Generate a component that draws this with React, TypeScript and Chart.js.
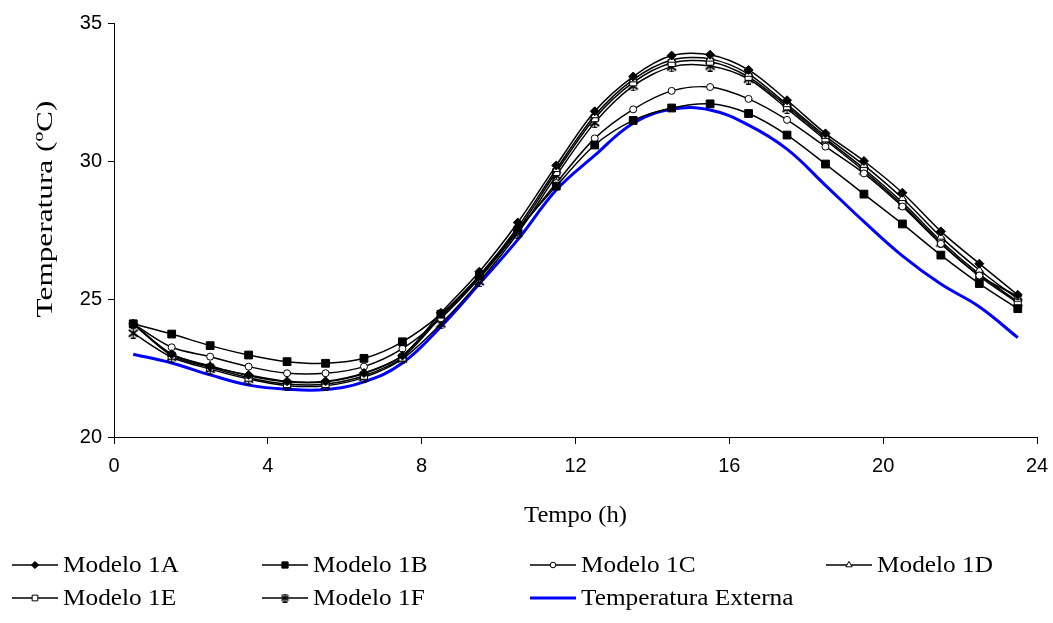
import React, { useEffect, useRef } from 'react';
import { Chart, registerables } from 'chart.js';
import { drawPoint } from 'chart.js/helpers';

Chart.register(...registerables);

const hours = [0.5, 1.5, 2.5, 3.5, 4.5, 5.5, 6.5, 7.5, 8.5, 9.5, 10.5, 11.5, 12.5, 13.5, 14.5, 15.5, 16.5, 17.5, 18.5, 19.5, 20.5, 21.5, 22.5, 23.5];

const modelo1A = [24.1, 23.0, 22.55, 22.25, 22.02, 22.02, 22.32, 22.95, 24.5, 25.99, 27.77, 29.84, 31.8, 33.06, 33.82, 33.85, 33.3, 32.2, 31.0, 30.0, 28.85, 27.45, 26.28, 25.15];
const modelo1B = [24.1, 23.73, 23.31, 22.97, 22.73, 22.67, 22.85, 23.45, 24.45, 25.82, 27.5, 29.09, 30.58, 31.47, 31.92, 32.07, 31.72, 30.94, 29.89, 28.8, 27.72, 26.59, 25.56, 24.65];
const modelo1C = [24.1, 23.25, 22.91, 22.55, 22.31, 22.31, 22.55, 23.2, 24.3, 25.75, 27.45, 29.2, 30.82, 31.87, 32.54, 32.68, 32.25, 31.49, 30.52, 29.55, 28.35, 27.0, 25.85, 25.1];
const modelo1D = [24.1, 23.0, 22.58, 22.22, 22.0, 22.0, 22.3, 22.95, 24.4, 25.85, 27.6, 29.7, 31.65, 32.95, 33.66, 33.7, 33.15, 32.05, 30.9, 29.85, 28.65, 27.25, 26.05, 25.0];
const modelo1E = [24.1, 22.95, 22.52, 22.15, 21.92, 21.92, 22.22, 22.88, 24.35, 25.78, 27.5, 29.6, 31.55, 32.85, 33.55, 33.6, 33.05, 31.98, 30.82, 29.72, 28.5, 27.1, 25.9, 24.9];
const modelo1F = [23.76, 22.89, 22.46, 22.1, 21.86, 21.86, 22.16, 22.83, 24.1, 25.63, 27.38, 29.47, 31.39, 32.72, 33.41, 33.44, 32.97, 31.9, 30.76, 29.64, 28.41, 27.03, 25.83, 24.86];
const tempExterna = [23.0, 22.68, 22.25, 21.88, 21.73, 21.72, 22.0, 22.68, 24.0, 25.55, 27.15, 28.95, 30.2, 31.37, 31.87, 31.85, 31.3, 30.43, 29.12, 27.8, 26.56, 25.54, 24.72, 23.6];

const seriesLabels = ['Modelo 1A', 'Modelo 1B', 'Modelo 1C', 'Modelo 1D', 'Modelo 1E', 'Modelo 1F', 'Temperatura Externa'];
const seriesValues = [modelo1A, modelo1B, modelo1C, modelo1D, modelo1E, modelo1F, tempExterna];

const xTitle = 'Tempo (h)';
const yTitle = 'Temperatura (ºC)';

const SERIF = '23px "Liberation Serif"';

function makeStar(size: number, lw: number): HTMLCanvasElement {
  const c = document.createElement('canvas');
  c.width = size;
  c.height = size;
  const g = c.getContext('2d')!;
  const m = size / 2;
  g.strokeStyle = '#000';
  g.lineCap = 'butt';
  g.lineWidth = lw;
  g.beginPath();
  g.moveTo(1, 2);
  g.lineTo(size - 1, size - 2);
  g.moveTo(size - 1, 2);
  g.lineTo(1, size - 2);
  g.stroke();
  g.lineWidth = 1.2;
  g.beginPath();
  g.moveTo(m, 0);
  g.lineTo(m, size);
  g.moveTo(m - 2.5, 0.6);
  g.lineTo(m + 2.5, 0.6);
  g.moveTo(m - 2.5, size - 0.6);
  g.lineTo(m + 2.5, size - 0.6);
  g.stroke();
  return c;
}

function stretchedText(ctx: any, text: string, x: number, y: number, sx: number, rot: number, align: string) {
  ctx.save();
  ctx.translate(x, y);
  ctx.rotate(rot);
  ctx.scale(sx, 1);
  ctx.font = SERIF;
  ctx.fillStyle = '#000';
  ctx.textAlign = align;
  ctx.textBaseline = 'middle';
  ctx.fillText(text, 0, 0);
  ctx.restore();
}

const textPlugin = {
  id: 'customText',
  afterDraw(chart: any) {
    const ctx = chart.ctx;
    const area = chart.chartArea;
    stretchedText(ctx, xTitle, (area.left + area.right) / 2, 516, 1.07, 0, 'center');
    stretchedText(ctx, yTitle, 46, 209, 1.36, -Math.PI / 2, 'center');
    const cols = [12, 262, 530, 826];
    const rows = [565, 598];
    chart.data.datasets.forEach((ds: any, i: number) => {
      const x0 = cols[i % 4];
      const y0 = rows[Math.floor(i / 4)];
      ctx.save();
      ctx.strokeStyle = ds.borderColor;
      ctx.lineWidth = ds.borderWidth;
      ctx.beginPath();
      ctx.moveTo(x0, y0);
      ctx.lineTo(x0 + 46, y0);
      ctx.stroke();
      if (ds.pointRadius > 0) {
        ctx.fillStyle = ds.pointBackgroundColor;
        ctx.strokeStyle = ds.pointBorderColor;
        ctx.lineWidth = 1;
        drawPoint(ctx, { pointStyle: ds.legendPointStyle || ds.pointStyle, radius: ds.pointRadius * 0.8, borderWidth: 1, rotation: 0 } as any, x0 + 23, y0);
      }
      ctx.restore();
      stretchedText(ctx, ds.label, x0 + 51, y0 + 1, 1.1, 0, 'left');
    });
  },
};

export default function App() {
  const ref = useRef<HTMLCanvasElement | null>(null);

  useEffect(() => {
    if (!ref.current) return;
    const star = makeStar(11, 2);
    const starSmall = makeStar(9, 1.6);
    const styles = [
      { pointStyle: 'rectRot', pointRadius: 4.5, bg: '#000' },
      { pointStyle: 'rect', pointRadius: 5.5, bg: '#000' },
      { pointStyle: 'circle', pointRadius: 3.5, bg: '#fff' },
      { pointStyle: 'triangle', pointRadius: 4.5, bg: '#fff' },
      { pointStyle: 'rect', pointRadius: 5, bg: '#fff' },
      { pointStyle: star, pointRadius: 5, bg: '#fff', legend: starSmall },
    ];
    const datasets = seriesValues.map((vals, i) => {
      const data = hours.map((h, k) => ({ x: h, y: vals[k] }));
      if (i === 6) {
        return {
          label: seriesLabels[i],
          data,
          borderColor: '#0000ff',
          borderWidth: 3,
          pointRadius: 0,
          tension: 0.4,
          fill: false,
        };
      }
      const s = styles[i];
      return {
        label: seriesLabels[i],
        data,
        borderColor: '#000',
        borderWidth: 1.5,
        pointStyle: s.pointStyle,
        legendPointStyle: (s as any).legend,
        pointRadius: s.pointRadius,
        pointBackgroundColor: s.bg,
        pointBorderColor: '#000',
        pointBorderWidth: 1,
        tension: 0.3,
        fill: false,
      };
    });

    const chart = new Chart(ref.current, {
      type: 'line',
      data: { datasets: datasets as any },
      options: {
        animation: false,
        responsive: false,
        devicePixelRatio: 1,
        layout: { padding: { left: 30, right: 0, top: 23, bottom: 90 } },
        plugins: { legend: { display: false }, tooltip: { enabled: false } },
        scales: {
          x: {
            type: 'linear',
            min: 0,
            max: 24,
            afterFit: (scale: any) => { scale.height = 96; scale.paddingRight = 16; scale.paddingLeft = 0; },
            ticks: { stepSize: 4, color: '#000', padding: 10, font: { family: '"Liberation Sans"', size: 20 } },
            grid: { drawOnChartArea: false, drawTicks: true, tickLength: 7, color: '#000' },
            border: { display: true, color: '#000', width: 1 },
          },
          y: {
            type: 'linear',
            min: 20,
            max: 35,
            afterFit: (scale: any) => { scale.width = 84; scale.paddingTop = 0; scale.paddingBottom = 0; },
            ticks: { stepSize: 5, color: '#000', padding: 6, font: { family: '"Liberation Sans"', size: 20 } },
            grid: { drawOnChartArea: false, drawTicks: true, tickLength: 6, color: '#000' },
            border: { display: true, color: '#000', width: 1 },
          },
        },
      },
      plugins: [textPlugin],
    });
    return () => chart.destroy();
  }, []);

  return (
    <div style={{ position: 'fixed', left: 0, top: 0, width: 1053, height: 623, background: '#fff' }}>
      <canvas ref={ref} width={1053} height={623} />
    </div>
  );
}
